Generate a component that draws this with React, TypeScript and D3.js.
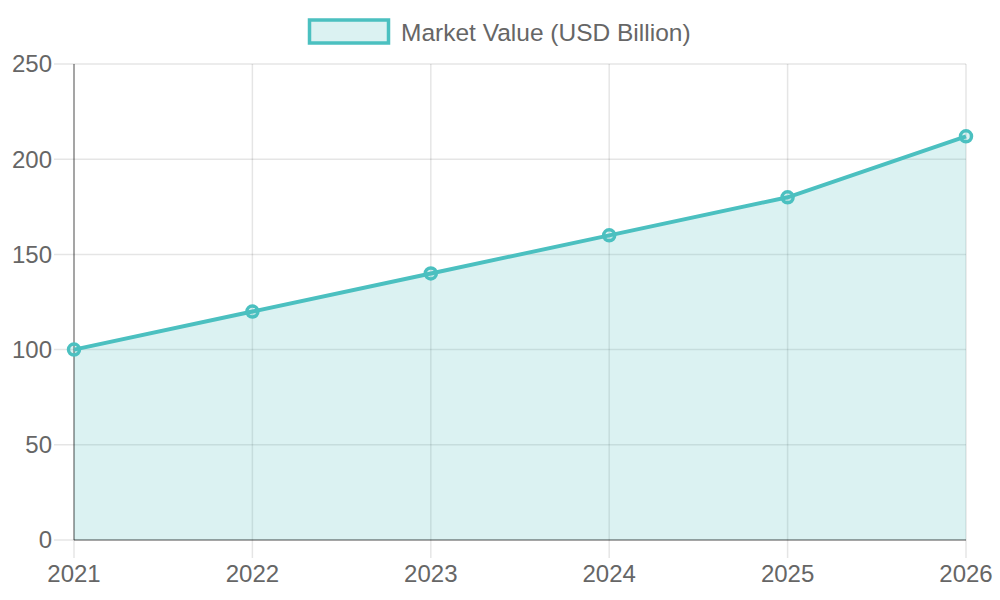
import * as d3 from 'd3';
import React, { useRef, useEffect } from 'react';

const years = ['2021', '2022', '2023', '2024', '2025', '2026'];
const marketValues = [100, 120, 140, 160, 180, 212];
const yTicks = [0, 50, 100, 150, 200, 250];
const seriesLabel = 'Market Value (USD Billion)';

const App: React.FC = () => {
    const svgRef = useRef<SVGSVGElement | null>(null);

    useEffect(() => {
        const width = 1000;
        const height = 600;
        const l = 74;
        const r = 966;
        const t = 64;
        const b = 540;
        const font = '"Liberation Sans", Arial, sans-serif';
        const teal = 'rgb(75,192,192)';

        const svg = d3.select(svgRef.current).attr('width', width).attr('height', height);
        svg.selectAll('*').remove();
        svg.append('rect').attr('width', width).attr('height', height).attr('fill', '#fff');

        const x = d3.scalePoint<string>().domain(years).range([l, r]);
        const y = d3.scaleLinear().domain([0, 250]).range([b, t]);

        // grid
        const grid = svg.append('g');
        grid.selectAll('line.h')
            .data(yTicks)
            .enter()
            .append('line')
            .attr('x1', l - 20)
            .attr('x2', r)
            .attr('y1', d => y(d))
            .attr('y2', d => y(d))
            .attr('stroke', 'rgba(0,0,0,0.1)')
            .attr('stroke-width', 1.5);
        grid.selectAll('line.v')
            .data(years)
            .enter()
            .append('line')
            .attr('x1', d => x(d)!)
            .attr('x2', d => x(d)!)
            .attr('y1', t)
            .attr('y2', b + 18)
            .attr('stroke', 'rgba(0,0,0,0.1)')
            .attr('stroke-width', 1.5);

        // area + line
        const area = d3.area<number>()
            .x((_, i) => x(years[i])!)
            .y0(y(0))
            .y1(d => y(d));
        const line = d3.line<number>()
            .x((_, i) => x(years[i])!)
            .y(d => y(d));

        svg.append('path')
            .datum(marketValues)
            .attr('d', area)
            .attr('fill', 'rgba(75,192,192,0.2)');

        // axis borders
        svg.append('line')
            .attr('x1', l).attr('x2', l).attr('y1', t).attr('y2', b)
            .attr('stroke', 'rgba(0,0,0,0.3)').attr('stroke-width', 2);
        svg.append('line')
            .attr('x1', l).attr('x2', r).attr('y1', b).attr('y2', b)
            .attr('stroke', 'rgba(0,0,0,0.3)').attr('stroke-width', 2);

        svg.append('path')
            .datum(marketValues)
            .attr('d', line)
            .attr('fill', 'none')
            .attr('stroke', teal)
            .attr('stroke-width', 4);

        svg.selectAll('circle')
            .data(marketValues)
            .enter()
            .append('circle')
            .attr('cx', (_, i) => x(years[i])!)
            .attr('cy', d => y(d))
            .attr('r', 5.5)
            .attr('fill', 'rgba(75,192,192,0.2)')
            .attr('stroke', teal)
            .attr('stroke-width', 3.5);

        // tick labels
        svg.selectAll('text.y')
            .data(yTicks)
            .enter()
            .append('text')
            .attr('x', 52)
            .attr('y', d => y(d))
            .attr('dy', '0.35em')
            .attr('text-anchor', 'end')
            .attr('font-family', font)
            .attr('font-size', 24)
            .attr('fill', '#666')
            .text(d => d);

        svg.selectAll('text.x')
            .data(years)
            .enter()
            .append('text')
            .attr('x', d => x(d)!)
            .attr('y', 582)
            .attr('text-anchor', 'middle')
            .attr('font-family', font)
            .attr('font-size', 24)
            .attr('fill', '#666')
            .text(d => d);

        // legend
        svg.append('rect')
            .attr('x', 309.5)
            .attr('y', 20)
            .attr('width', 79)
            .attr('height', 23)
            .attr('fill', 'rgba(75,192,192,0.2)')
            .attr('stroke', teal)
            .attr('stroke-width', 3.5);
        svg.append('text')
            .attr('x', 401)
            .attr('y', 32)
            .attr('dy', '0.35em')
            .attr('font-family', font)
            .attr('font-size', 24.5)
            .attr('fill', '#666')
            .text(seriesLabel);
    }, []);

    return <svg ref={svgRef} style={{ position: 'absolute', left: 0, top: 0 }}></svg>;
};

export default App;
